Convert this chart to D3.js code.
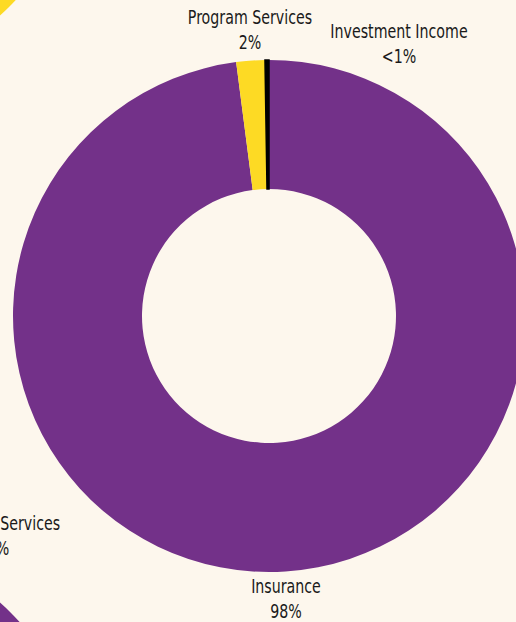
<!DOCTYPE html>
<html>
<head>
<meta charset="utf-8">
<script src="https://cdn.jsdelivr.net/npm/d3@7"></script>
<style>
  html, body { margin: 0; padding: 0; background: #FDF7ED; }
  svg { display: block; }
  .lbl { font-family: "Liberation Sans Narrow", "DejaVu Sans Condensed", sans-serif; font-size: 20px; fill: #1a1a1a; }
</style>
</head>
<body>
<svg></svg>
<script>
(function () {
  var width = 516, height = 622;

  // revenue split (percent)
  var categories = ["Insurance", "Program Services", "Investment Income"];
  var values = [97.95, 1.8, 0.25];
  var pctLabels = ["98%", "2%", "<1%"];
  var colors = ["#733189", "#FDDA24", "#000000"];

  var svg = d3.select("svg").attr("width", width).attr("height", height);
  svg.append("rect").attr("width", width).attr("height", height).attr("fill", "#FDF7ED");

  var cx = 269, cy = 316, outerR = 256, innerR = 127;
  var squeeze = 0.79; // condensed look for the labels
  var lineGap = 25;

  // pieces of the neighbouring charts that bleed into the frame
  var neighbours = [
    {x: -172, y: -174, color: "#FDDA24"},
    {x: -170, y: 794, color: "#733189"}
  ];
  var arc = d3.arc().innerRadius(innerR).outerRadius(outerR);
  svg.selectAll(".nb")
    .data(neighbours)
    .enter().append("path")
    .attr("class", "nb")
    .attr("transform", function(d) { return "translate(" + d.x + "," + d.y + ")"; })
    .attr("fill", function(d) { return d.color; })
    .attr("d", arc({startAngle: 0, endAngle: 2 * Math.PI}));

  var pie = d3.pie().sort(null).value(function(d) { return d; });
  var arcs = pie(values);

  var g = svg.append("g").attr("transform", "translate(" + cx + "," + cy + ")");
  g.selectAll(".slice")
    .data(arcs)
    .enter().append("path")
    .attr("class", "slice")
    .attr("fill", function(d, i) { return colors[i]; })
    .attr("stroke", function(d, i) { return i === 2 ? "#000" : "none"; })
    .attr("stroke-width", 1.5)
    .attr("d", arc);

  // label anchors (centre of text, baseline of first line)
  var labelPos = [[286, 593], [250, 24], [399, 38]];
  var lbl = svg.selectAll(".lblg")
    .data(categories)
    .enter().append("g")
    .attr("transform", function(d, i) {
      return "translate(" + labelPos[i][0] + "," + labelPos[i][1] + ") scale(" + squeeze + ",1)";
    });
  lbl.append("text").attr("class", "lbl").attr("text-anchor", "middle").text(function(d) { return d; });
  lbl.append("text").attr("class", "lbl").attr("text-anchor", "middle").attr("y", lineGap)
    .text(function(d, i) { return pctLabels[i]; });

  // cut-off label of the chart to the lower left
  var left = svg.append("g").attr("transform", "translate(-2,530) scale(" + squeeze + ",1)");
  left.append("text").attr("class", "lbl").attr("text-anchor", "middle").text("Program Services");
  left.append("text").attr("class", "lbl").attr("text-anchor", "middle").attr("y", lineGap).text("2%");
})();
</script>
</body>
</html>
